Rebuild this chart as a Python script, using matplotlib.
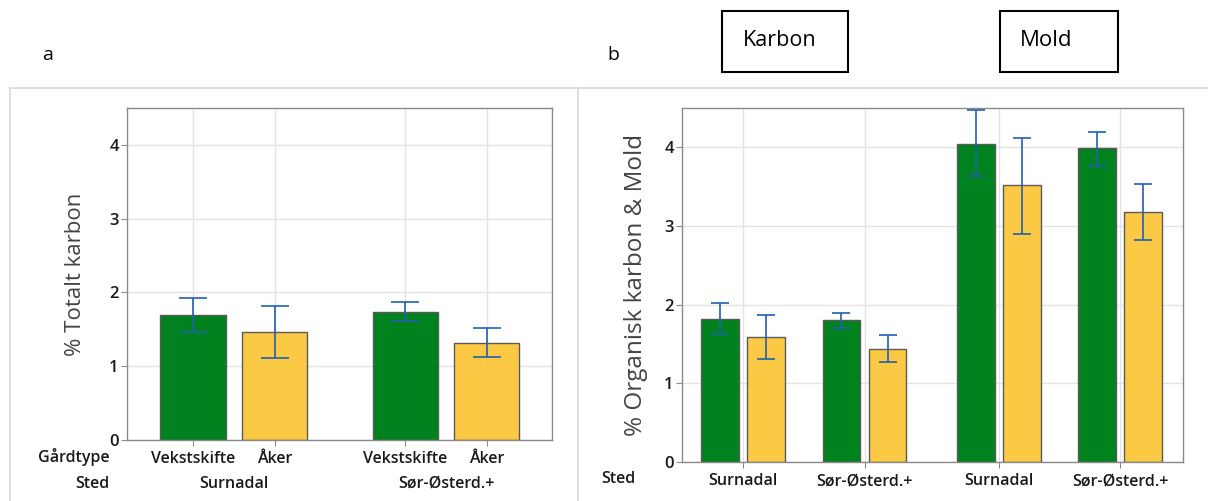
import numpy as np
import matplotlib.pyplot as plt
from matplotlib.patches import Rectangle

plt.rcParams['font.family'] = ['Open Sans', 'DejaVu Sans']

# panel a data
gardtypeA = ["Vekstskifte", "Åker", "Vekstskifte", "Åker"]
stedA = ["Surnadal", "Sør-Østerd.+"]
totalKarbon = [1.70, 1.47, 1.74, 1.32]
totalKarbonLow = [1.47, 1.11, 1.61, 1.13]
totalKarbonHigh = [1.92, 1.81, 1.87, 1.52]

# panel b data (karbon then mold, vekstskifte/aker pairs per sted)
stedB = ["Surnadal", "Sør-Østerd.+", "Surnadal", "Sør-Østerd.+"]
orgValues = [1.82, 1.59, 1.80, 1.44, 4.04, 3.52, 3.99, 3.18]
orgLow = [1.63, 1.31, 1.70, 1.27, 3.63, 2.90, 3.76, 2.82]
orgHigh = [2.02, 1.87, 1.89, 1.61, 4.47, 4.12, 4.19, 3.54]

green = "#00821f"
yellow = "#fcc944"
errColor = "#2160b0"
gridColor = "#e4e4e4"
W, H = 1208, 501
tickFs = 11.5
tickW = "semibold"


def pxAxes(fig, left, top, right, bottom):
    return fig.add_axes([left / W, 1 - bottom / H, (right - left) / W, (bottom - top) / H])


def styleAxes(ax):
    ax.set_ylim(0, 4.5)
    ax.set_yticks([0, 1, 2, 3, 4])
    ax.grid(True, color=gridColor, linewidth=1.0)
    ax.set_axisbelow(True)
    for s in ax.spines.values():
        s.set_color("#8a8a8a")
        s.set_linewidth(1.0)
    ax.tick_params(axis="both", length=4, color="#8a8a8a", labelsize=tickFs + 0.5, pad=2)
    ax.tick_params(axis="x", pad=4, labelsize=tickFs)
    for lbl in ax.get_xticklabels() + ax.get_yticklabels():
        lbl.set_fontweight(tickW)
        lbl.set_color("#1a1a1a")


def drawBars(ax, pos, vals, low, high, width, capsize):
    colors = [green if i % 2 == 0 else yellow for i in range(len(vals))]
    ax.bar(pos, vals, width=width, color=colors, edgecolor="#5a5a5a", linewidth=1.0, zorder=2)
    vals = np.array(vals)
    err = [vals - np.array(low), np.array(high) - vals]
    ax.errorbar(pos, vals, yerr=err, fmt="none", ecolor=errColor, elinewidth=1.2, capsize=capsize, capthick=1.2, zorder=3)


fig = plt.figure(figsize=(W / 100, H / 100), dpi=100)

# frame lines
frame = fig.add_axes([0, 0, 1, 1])
frame.set_xlim(0, W)
frame.set_ylim(H, 0)
frame.axis("off")
frame.plot([10, W], [88, 88], color="#d8d8d8", linewidth=1.2)
frame.plot([10, 10], [88, H], color="#d8d8d8", linewidth=1.2)
frame.plot([578, 578], [88, H], color="#d8d8d8", linewidth=1.2)
frame.text(48, 55, "a", fontsize=14, ha="center", va="center")
frame.text(613, 55, "b", fontsize=14, ha="center", va="center")
frame.add_patch(Rectangle((722, 11), 126, 61, fill=False, edgecolor="black", linewidth=1.5))
frame.add_patch(Rectangle((1000, 11), 118, 61, fill=False, edgecolor="black", linewidth=1.5))
frame.text(743, 40, "Karbon", fontsize=15.5, ha="left", va="center")
frame.text(1020, 40, "Mold", fontsize=16, ha="left", va="center")

# panel a
axA = pxAxes(fig, 127, 108, 552, 440)
posA = np.array([0, 1, 2.6, 3.6])
drawBars(axA, posA, totalKarbon, totalKarbonLow, totalKarbonHigh, 0.8, 10)
axA.set_xlim(-0.81, 4.4)
axA.set_xticks(posA)
axA.set_xticklabels(gardtypeA)
styleAxes(axA)
axA.set_ylabel("% Totalt karbon", fontsize=16, fontweight="medium", color="#444444", labelpad=17)
frame.text(110, 457, "Gårdtype", fontsize=tickFs, fontweight=tickW, color="#1a1a1a", ha="right", va="center")
frame.text(110, 484, "Sted", fontsize=tickFs, fontweight=tickW, color="#1a1a1a", ha="right", va="center")
for i, s in enumerate(stedA):
    xMid = (posA[2 * i] + posA[2 * i + 1]) / 2
    xPx = 127 + (xMid + 0.81) / (4.4 + 0.81) * (552 - 127)
    frame.text(xPx, 484, s, fontsize=tickFs, fontweight=tickW, color="#1a1a1a", ha="center", va="center")

# panel b
axB = pxAxes(fig, 682, 108, 1183, 462)
groupCenters = np.array([0.5, 3.13, 6.05, 8.68])
posB = np.concatenate([[c - 0.5, c + 0.5] for c in groupCenters])
drawBars(axB, posB, orgValues, orgLow, orgHigh, 0.82, 6.5)
axB.set_xlim(-0.83, 10.04)
axB.set_xticks(groupCenters)
axB.set_xticklabels(stedB)
styleAxes(axB)
axB.set_ylabel("% Organisk karbon & Mold", fontsize=17.5, fontweight="medium", color="#444444", labelpad=12)
frame.text(636, 479, "Sted", fontsize=tickFs, fontweight=tickW, color="#1a1a1a", ha="right", va="center")

fig.savefig("out.png", dpi=100)
